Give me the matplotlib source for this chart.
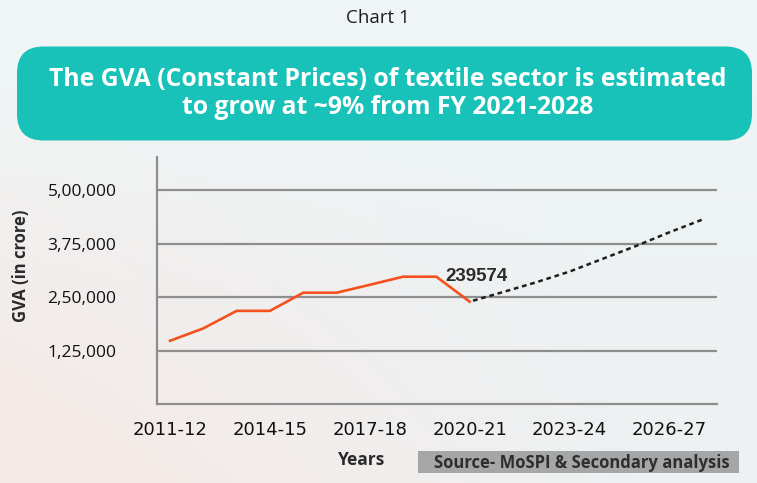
import numpy as np
import matplotlib
matplotlib.use("Agg")
import matplotlib.pyplot as plt
from matplotlib.patches import FancyBboxPatch, Rectangle

# ---------------- data ----------------
years = ["2011-12", "2012-13", "2013-14", "2014-15", "2015-16", "2016-17",
         "2017-18", "2018-19", "2019-20", "2020-21", "2021-22", "2022-23",
         "2023-24", "2024-25", "2025-26", "2026-27", "2027-28"]
actual_gva = [148000, 177000, 218000, 218000, 260500, 260500,
              279000, 298000, 298000, 239574]
projected_gva = [239574, 262000, 285000, 310000, 340000, 370000, 402000, 432000]
tick_labels = ["2011-12", "2014-15", "2017-18", "2020-21", "2023-24", "2026-27"]
y_ticks = [125000, 250000, 375000, 500000]
y_tick_labels = ["1,25,000", "2,50,000", "3,75,000", "5,00,000"]

W, H = 757, 483
fig = plt.figure(figsize=(W / 100, H / 100), dpi=100)

# ---------------- background ----------------
bg = fig.add_axes([0, 0, 1, 1], zorder=-10)
yy, xx = np.mgrid[0:1:200j, 0:1:300j]
warm = np.clip(1.3 * (yy) * (1 - xx) - 0.15, 0, 1)
base = np.array([0.930, 0.947, 0.952])
pink = np.array([0.962, 0.918, 0.905])
img = base[None, None, :] * (1 - warm[..., None]) + pink[None, None, :] * warm[..., None]
top_light = np.clip(0.6 - yy, 0, 1)[..., None] * 0.06
img = np.clip(img + top_light * np.array([0.3, 0.5, 0.5]), 0, 1)
bg.imshow(img, extent=[0, 1, 0, 1], origin="upper", aspect="auto")
bg.set_axis_off()

# ---------------- header ----------------
fig.text(378 / W, 1 - 18 / H, "Chart 1", ha="center", va="center",
         fontsize=13.5, family="Open Sans", color="#1e1e1e")

box = FancyBboxPatch((17 / W, 1 - 140.5 / H), (752 - 17) / W, (140.5 - 46.5) / H,
                     boxstyle="round,pad=0,rounding_size=0.035",
                     transform=fig.transFigure, facecolor="#19c2b9",
                     edgecolor="none", mutation_aspect=W / H)
fig.patches.append(box)
fig.text(388 / W, 1 - 80 / H,
         "The GVA (Constant Prices) of textile sector is estimated",
         ha="center", va="center", fontsize=17.8, family="Open Sans",
         weight="bold", color="white")
fig.text(388 / W, 1 - 108 / H, "to grow at ~9% from FY 2021-2028",
         ha="center", va="center", fontsize=17.8, family="Open Sans",
         weight="bold", color="white")

# ---------------- main axes ----------------
left_px, right_px, top_px, bot_px = 156.7, 716.7, 157.3, 404
ax = fig.add_axes([left_px / W, 1 - bot_px / H, (right_px - left_px) / W,
                   (bot_px - top_px) / H])
ax.set_facecolor("none")

x_actual = np.arange(len(actual_gva))
x_proj = np.arange(len(actual_gva) - 1, len(actual_gva) - 1 + len(projected_gva))

ax.plot(x_actual, actual_gva, color="#f4511e", lw=1.9, solid_joinstyle="miter",
        zorder=3)
ax.plot(x_proj, projected_gva, color="#1e1e1e", lw=1.8,
        linestyle=(2.0, (1.9, 1.5)), zorder=3)

ax.annotate(f"{actual_gva[-1]}", xy=(x_actual[-1], actual_gva[-1]),
            xytext=(-24, 25), textcoords="offset pixels", ha="left",
            va="center", fontsize=13.5, weight="bold",
            family="Liberation Sans", color="#2b2b2b")

ax.set_xlim(-0.4, 16.42)
ax.set_ylim(0, 577500)
tick_pos = [years.index(t) for t in tick_labels]
ax.set_xticks(tick_pos)
ax.set_xticklabels(tick_labels, fontsize=13,
                   family=["Liberation Sans Narrow", "DejaVu Sans"],
                   color="#111111")
ax.set_yticks(y_ticks)
ax.set_yticklabels(y_tick_labels, fontsize=12.5, family="Open Sans",
                   color="#111111")
ax.tick_params(axis="both", length=0)
ax.tick_params(axis="x", pad=12)
ax.tick_params(axis="y", pad=29)

ax.grid(axis="y", color="#8e8e8e", lw=1.6)
ax.set_axisbelow(True)
for s in ["top", "right"]:
    ax.spines[s].set_visible(False)
for s in ["left", "bottom"]:
    ax.spines[s].set_color("#8e8e8e")
    ax.spines[s].set_linewidth(1.6)

fig.text(21 / W, 1 - 266 / H, "GVA (in crore)", rotation=90, ha="center",
         va="center", fontsize=12, weight="bold", family="Open Sans",
         color="#2a2a2a")
fig.text(362 / W, 1 - 460 / H, "Years", ha="center", va="center",
         fontsize=12.5, weight="bold", family="Open Sans", color="#2a2a2a")

src = Rectangle((418 / W, 1 - 473 / H), (739 - 418) / W, (473 - 451) / H,
                transform=fig.transFigure, facecolor="#a5a6a8", edgecolor="none")
fig.patches.append(src)
fig.text(434 / W, 1 - 463 / H, "Source- MoSPI & Secondary analysis",
         ha="left", va="center", fontsize=12, weight="bold",
         family="Open Sans", color="#2e2e2e")

fig.savefig("out.png", dpi=100)
